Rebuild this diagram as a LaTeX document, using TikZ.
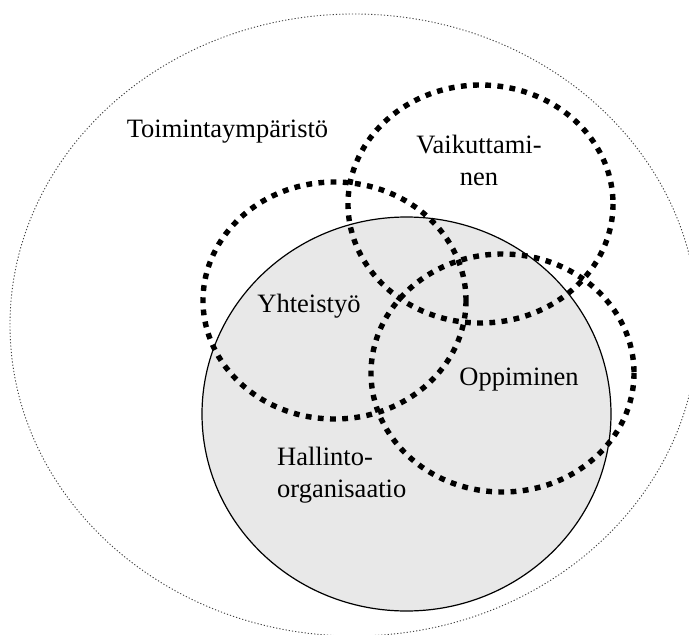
\documentclass[tikz,border=0pt]{standalone}
\usepackage{fontspec}
\setmainfont{Liberation Serif}
\begin{document}
\begin{tikzpicture}[x=1pt,y=-1pt,
  env/.style={line width=0.9pt,dash pattern=on 1.2pt off 2pt,draw=black!75},
  org/.style={draw=black,line width=1.2pt,fill=black!9},
  area/.style={draw=black,line width=5.4pt,dash pattern=on 5.8pt off 6.4pt},
  lbl/.style={inner sep=0pt,font=\fontsize{26.5}{32}\selectfont}]
\useasboundingbox (0,0) rectangle (689,635);
% operating environment
\draw[env] (354,325) ellipse [x radius=344, y radius=311];
% the organisation
\draw[org] (406.5,414) ellipse [x radius=204.5, y radius=197];
% overlapping activity areas
\draw[area] (480.5,204) ellipse [x radius=132.5, y radius=119];
\draw[area] (334.5,300.5) ellipse [x radius=131.5, y radius=118.5];
\draw[area] (502.5,373) ellipse [x radius=131.5, y radius=119];
% labels (base of a two-line label is its last line)
\node[lbl,anchor=base] (env) at (227.5,137) {Toimintaympäristö};
\node[lbl,anchor=base,align=center] (vai) at (479,185) {Vaikuttami-\\nen};
\node[lbl,anchor=base] (yht) at (309,312) {Yhteistyö};
\node[lbl,anchor=base] (opp) at (519,385) {Oppiminen};
\node[lbl,anchor=base west,align=left] (hal) at (277,497) {Hallinto-\\organisaatio};
\end{tikzpicture}
\end{document}
